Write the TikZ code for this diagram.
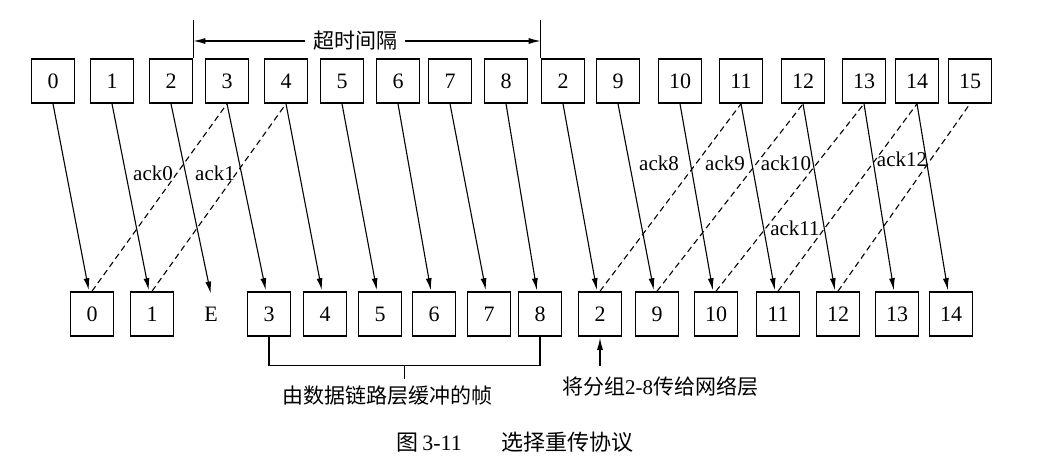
\documentclass[tikz,border=0pt]{standalone}
\usepackage{fontspec}
\setmainfont{Liberation Serif}
\newfontfamily\cjk{Noto Sans CJK SC}
\usetikzlibrary{arrows.meta, calc}

\begin{document}
\begin{tikzpicture}[x=1pt, y=1pt, font=\fontsize{21}{25}\selectfont]
    \tikzstyle{frame}=[draw, line width=1.6pt, minimum width=43pt, minimum height=44pt, inner sep=0pt, font=\fontsize{22}{26}\selectfont]
    \tikzstyle{send}=[-{Latex[length=12pt,width=6pt]}, shorten >=1pt, line width=1.1pt]
    \tikzstyle{ack}=[line width=1.1pt, dash pattern=on 6pt off 4pt]
    \tikzstyle{annot}=[inner sep=1pt]

    \useasboundingbox (0,0) rectangle (1052,470);

% sender side
	\node[frame] (S-0) at (53,389) {0};
	\node[frame] (S-1) at (112,389) {1};
	\node[frame] (S-2) at (171,389) {2};
	\node[frame] (S-3) at (227,389) {3};
	\node[frame] (S-4) at (286,389) {4};
	\node[frame] (S-5) at (342,389) {5};
	\node[frame] (S-6) at (398,389) {6};
	\node[frame] (S-7) at (450,389) {7};
	\node[frame] (S-8) at (506,389) {8};
	\node[frame] (S-R2) at (563,389) {2};
	\node[frame] (S-9) at (618,389) {9};
	\node[frame] (S-10) at (680,389) {10};
	\node[frame] (S-11) at (741,389) {11};
	\node[frame] (S-12) at (803,389) {12};
	\node[frame] (S-13) at (864,389) {13};
	\node[frame] (S-14) at (917,389) {14};
	\node[frame] (S-15) at (970,389) {15};

% receiver side
	\node[frame] (R-0) at (92,156) {0};
	\node[frame] (R-1) at (152,156) {1};
	\node[inner sep=12pt, font=\fontsize{22}{26}\selectfont] (R-E) at (211,156) {E};
	\node[frame] (R-3) at (269,156) {3};
	\node[frame] (R-4) at (325,156) {4};
	\node[frame] (R-5) at (380,156) {5};
	\node[frame] (R-6) at (434,156) {6};
	\node[frame] (R-7) at (489,156) {7};
	\node[frame] (R-8) at (540,156) {8};
	\node[frame] (R-R2) at (600,156) {2};
	\node[frame] (R-9) at (657,156) {9};
	\node[frame] (R-10) at (716,156) {10};
	\node[frame] (R-11) at (778,156) {11};
	\node[frame] (R-12) at (838,156) {12};
	\node[frame] (R-13) at (897,156) {13};
	\node[frame] (R-14) at (951,156) {14};

	% frames
	\draw[send] (S-0.south) -- ([xshift=-3pt]R-0.north);
	\draw[send] (S-1.south) -- ([xshift=-3pt]R-1.north);
	\draw[send] (S-2.south) -- (R-E.north);
	\draw[send] (S-3.south) -- ([xshift=-3pt]R-3.north);
	\draw[send] (S-4.south) -- ([xshift=-3pt]R-4.north);
	\draw[send] (S-5.south) -- ([xshift=-3pt]R-5.north);
	\draw[send] (S-6.south) -- ([xshift=-3pt]R-6.north);
	\draw[send] (S-7.south) -- ([xshift=-3pt]R-7.north);
	\draw[send] (S-8.south) -- ([xshift=-3pt]R-8.north);
	\draw[send] (S-R2.south) -- ([xshift=-3pt]R-R2.north);
	\draw[send] (S-9.south) -- ([xshift=-3pt]R-9.north);
	\draw[send] (S-10.south) -- ([xshift=-3pt]R-10.north);
	\draw[send] (S-11.south) -- ([xshift=-3pt]R-11.north);
	\draw[send] (S-12.south) -- ([xshift=-3pt]R-12.north);
	\draw[send] (S-13.south) -- ([xshift=-3pt]R-13.north);
	\draw[send] (S-14.south) -- ([xshift=-3pt]R-14.north);

	% acks
	\draw[ack] (R-0.north) -- (S-3.south);
	\draw[ack] (R-1.north) -- (S-4.south);
	\draw[ack] (R-R2.north) -- (S-11.south);
	\draw[ack] (R-9.north) -- (S-12.south);
	\draw[ack] (R-10.north) -- (S-13.south);
	\draw[ack] (R-11.north) -- (S-14.south);
	\draw[ack] (R-12.north) -- (S-15.south);

	\node[annot] (a0) at (153,297) {ack0};
	\node[annot] (a1) at (215,297) {ack1};
	\node[annot] (a8) at (659,307) {ack8};
	\node[annot] (a9) at (725,307) {ack9};
	\node[annot] (a10) at (786,307) {ack10};
	\node[annot] (a11) at (795,242) {ack11};
	\node[annot] (a12) at (902,311) {ack12};

	% timeout
	\draw[line width=1.1pt] (S-2.north east) -- ++(0,38) coordinate (TL);
	\draw[line width=1.1pt] (S-R2.north west) -- ++(0,38) coordinate (TR);
	\node[inner xsep=8pt] (T) at (355,429) {\cjk 超时间隔};
	\draw[send, shorten >=0pt] (T) -- (T -| TL);
	\draw[send, shorten >=0pt] (T) -- (T -| TR);

	% buffered frames
	\draw[line width=1.1pt] (R-3.south) -- ++(0,-29) coordinate (B1) -| (R-8.south);
	\draw[line width=1.1pt] ($(B1)!0.5!(B1 -| R-8)$) -- ++(0,-13);
	\node (buf) at (387,74) {\cjk 由数据链路层缓冲的帧};

	\coordinate (D) at (600,104);
	\draw[send] (D) -- (R-R2.south);
	\node (deliv) at (660,84) {{\cjk 将分组}2-8{\cjk 传给网络层}};

	\node (cap) at (515,28) {\fontsize{22}{26}\selectfont{\cjk 图}\,3-11\hspace{1.8em}{\cjk 选择重传协议}};
\end{tikzpicture}
\end{document}
